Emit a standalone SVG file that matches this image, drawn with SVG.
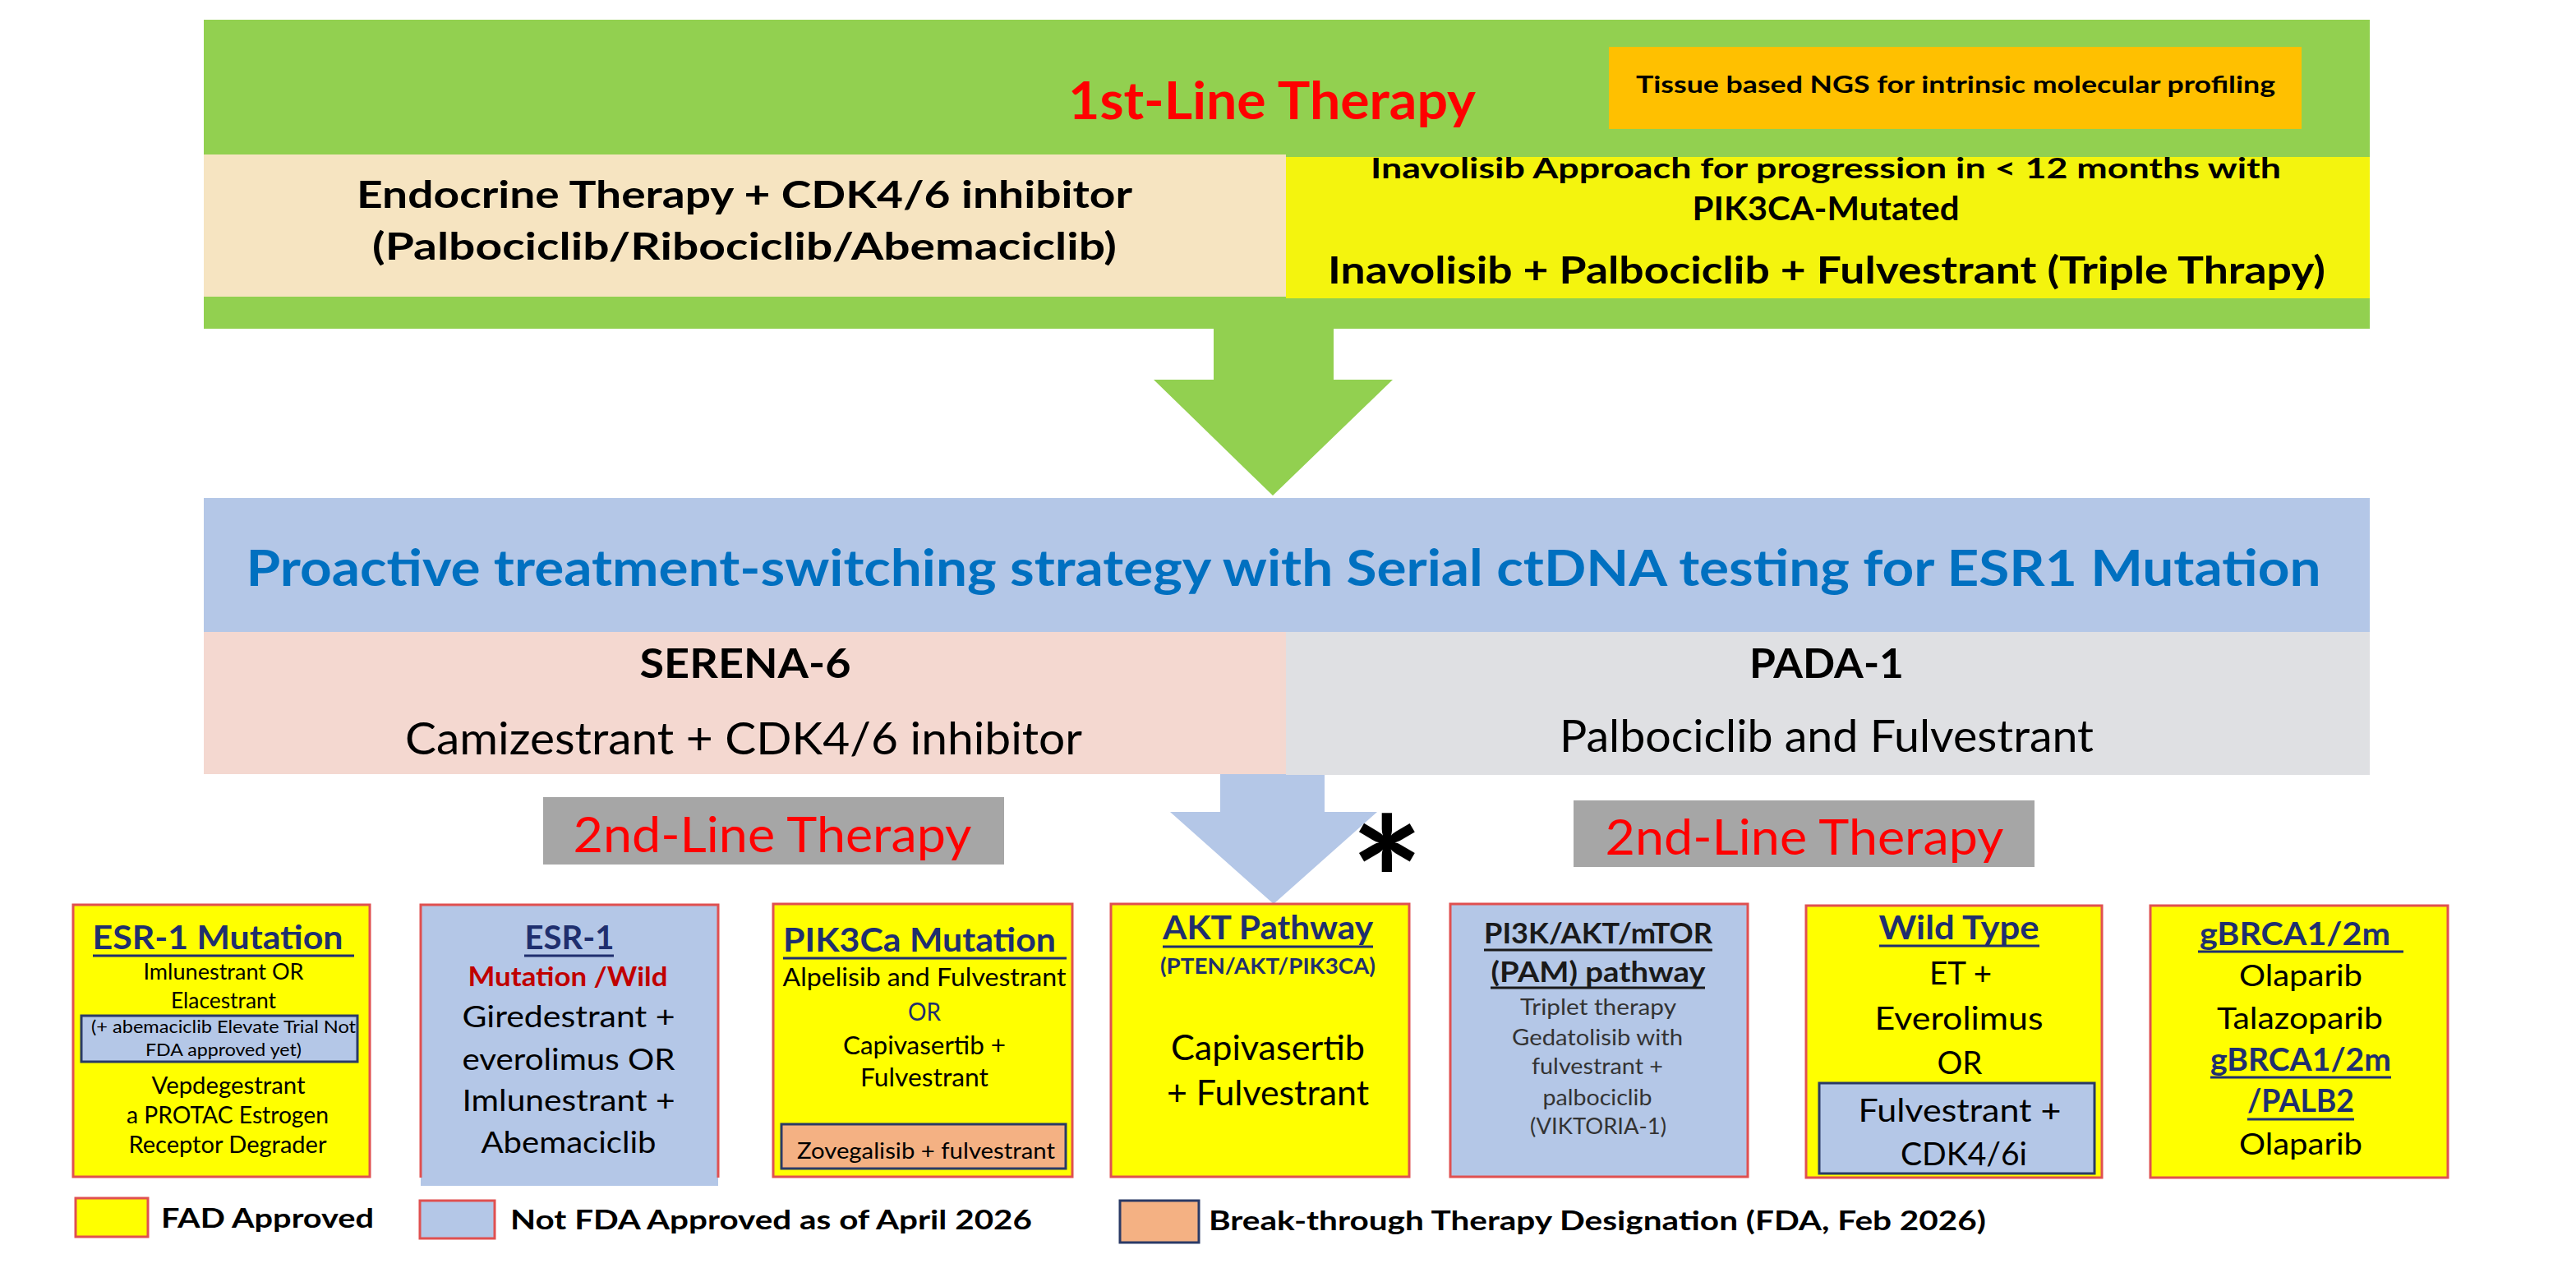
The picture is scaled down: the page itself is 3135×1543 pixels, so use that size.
<svg xmlns="http://www.w3.org/2000/svg" width="3135" height="1543" viewBox="0 0 3135 1543">
<style>
text{font-family:Lato,"Liberation Sans",sans-serif;}
.b{font-weight:bold;}
.c{text-anchor:middle;}
.nv{fill:#1f2f6e;}
.k{fill:#000;}
.red{fill:#ff0000;}
.box{stroke:#e05050;stroke-width:3;}
.yel{fill:#ffff00;}
.blu{fill:#b4c7e7;}
.inner{stroke:#2a3a66;stroke-width:3;}
.ul{stroke:#1f2f6e;stroke-width:3;}
.ulk{stroke:#1a1a1a;stroke-width:3;}
</style>
<rect width="3135" height="1543" fill="#ffffff"/>

<g id="connectors">
  <polygon points="1477,398 1623,398 1623,462 1695,462 1549,603 1404,462 1477,462" fill="#92d050"/>
  <polygon points="1485,940 1612,940 1612,988 1676,988 1550,1100 1424,988 1485,988" fill="#b4c7e7"/>
</g>

<g id="first-line">
  <rect x="248" y="24" width="2636" height="376" fill="#92d050"/>
  <text x="1548" y="145" class="b c red" font-size="64" textLength="496" lengthAdjust="spacingAndGlyphs">1st-Line Therapy</text>
</g>
<g id="ngs">
  <rect x="1958" y="57" width="843" height="100" fill="#ffc000"/>
  <text x="2380" y="113" class="b c k" font-size="29" textLength="778" lengthAdjust="spacingAndGlyphs">Tissue based NGS for intrinsic molecular profiling</text>
</g>
<g id="endocrine">
  <rect x="248" y="188" width="1317" height="173" fill="#f6e4c1"/>
  <text x="906" y="253" class="b c k" font-size="45" textLength="944" lengthAdjust="spacingAndGlyphs">Endocrine Therapy + CDK4/6 inhibitor</text>
  <text x="906" y="316" class="b c k" font-size="45" textLength="906" lengthAdjust="spacingAndGlyphs">(Palbociclib/Ribociclib/Abemaciclib)</text>
</g>
<g id="inavolisib">
  <rect x="1565" y="191" width="1319" height="172" fill="#f4f40e"/>
  <text x="2222" y="217" class="b c k" font-size="34" textLength="1108" lengthAdjust="spacingAndGlyphs">Inavolisib Approach for progression in &lt; 12 months with</text>
  <text x="2222" y="268" class="b c k" font-size="40" textLength="325" lengthAdjust="spacingAndGlyphs">PIK3CA-Mutated</text>
  <text x="2223" y="345" class="b c k" font-size="45" textLength="1214" lengthAdjust="spacingAndGlyphs">Inavolisib + Palbociclib + Fulvestrant (Triple Thrapy)</text>
</g>

<g id="proactive">
  <rect x="248" y="606" width="2636" height="163" fill="#b4c7e7"/>
  <text x="1562" y="713" class="b c" fill="#0070c0" font-size="62" textLength="2525" lengthAdjust="spacingAndGlyphs">Proactive treatment-switching strategy with Serial ctDNA testing for ESR1 Mutation</text>
</g>
<g id="serena6">
  <rect x="248" y="769" width="1317" height="173" fill="#f4d8d0"/>
  <text x="907" y="825" class="b c k" font-size="50" textLength="257" lengthAdjust="spacingAndGlyphs">SERENA-6</text>
  <text x="905" y="918" class="c k" font-size="55" textLength="824" lengthAdjust="spacingAndGlyphs">Camizestrant + CDK4/6 inhibitor</text>
</g>
<g id="pada1">
  <rect x="1565" y="769" width="1319" height="174" fill="#dfe0e3"/>
  <text x="2223" y="825" class="b c k" font-size="50" textLength="188" lengthAdjust="spacingAndGlyphs">PADA-1</text>
  <text x="2223" y="915" class="c k" font-size="55" textLength="650" lengthAdjust="spacingAndGlyphs">Palbociclib and Fulvestrant</text>
</g>

<g id="second-line-left">
  <rect x="661" y="970" width="561" height="82" fill="#a6a6a6"/>
  <text x="940" y="1037" class="c red" font-size="60" textLength="485" lengthAdjust="spacingAndGlyphs">2nd-Line Therapy</text>
</g>
<g id="second-line-right">
  <rect x="1915" y="974" width="561" height="81" fill="#a6a6a6"/>
  <text x="2196" y="1040" class="c red" font-size="60" textLength="485" lengthAdjust="spacingAndGlyphs">2nd-Line Therapy</text>
</g>
<g id="asterisk">
  <text x="1688" y="1149" class="b c k" font-size="210" font-family="Liberation Sans, sans-serif">*</text>
</g>

<g id="esr1-mutation">
  <rect x="89" y="1101" width="361" height="331" class="box yel"/>
  <text x="265" y="1155" class="b c nv" font-size="40" textLength="305" lengthAdjust="spacingAndGlyphs">ESR-1 Mutation</text>
  <line x1="113" y1="1163" x2="431" y2="1163" class="ul"/>
  <text x="272" y="1192" class="c k" font-size="26" textLength="195" lengthAdjust="spacingAndGlyphs">Imlunestrant  OR</text>
  <text x="272" y="1227" class="c k" font-size="26" textLength="128" lengthAdjust="spacingAndGlyphs">Elacestrant</text>
  <rect x="99" y="1236" width="336" height="56" class="blu inner"/>
  <text x="272" y="1257" class="c k" font-size="22" textLength="322" lengthAdjust="spacingAndGlyphs">(+ abemaciclib Elevate Trial Not</text>
  <text x="272" y="1285" class="c k" font-size="22" textLength="190" lengthAdjust="spacingAndGlyphs">FDA approved yet)</text>
  <text x="278" y="1331" class="c k" font-size="28" textLength="187" lengthAdjust="spacingAndGlyphs">Vepdegestrant</text>
  <text x="277" y="1367" class="c k" font-size="28" textLength="246" lengthAdjust="spacingAndGlyphs">a PROTAC Estrogen</text>
  <text x="277" y="1403" class="c k" font-size="28" textLength="241" lengthAdjust="spacingAndGlyphs">Receptor Degrader</text>
</g>

<g id="esr1-wild">
  <rect x="512" y="1101" width="362" height="342" class="blu"/>
  <path d="M512,1433 V1101 H874 V1433" fill="none" stroke="#e05050" stroke-width="3"/>
  <text x="693" y="1155" class="b c nv" font-size="40" textLength="109" lengthAdjust="spacingAndGlyphs">ESR-1</text>
  <line x1="638" y1="1163" x2="747" y2="1163" class="ul"/>
  <text x="691" y="1200" class="b c" fill="#c00000" font-size="33" textLength="243" lengthAdjust="spacingAndGlyphs">Mutation /Wild</text>
  <text x="692" y="1250" class="c k" font-size="37" textLength="259" lengthAdjust="spacingAndGlyphs">Giredestrant +</text>
  <text x="692" y="1302" class="c k" font-size="37" textLength="259" lengthAdjust="spacingAndGlyphs">everolimus OR</text>
  <text x="692" y="1352" class="c k" font-size="37" textLength="259" lengthAdjust="spacingAndGlyphs">Imlunestrant +</text>
  <text x="692" y="1403" class="c k" font-size="37" textLength="213" lengthAdjust="spacingAndGlyphs">Abemaciclib</text>
</g>

<g id="pik3ca">
  <rect x="941" y="1100" width="364" height="332" class="box yel"/>
  <text x="1119" y="1158" class="b c nv" font-size="41" textLength="332" lengthAdjust="spacingAndGlyphs">PIK3Ca Mutation</text>
  <line x1="953" y1="1166" x2="1298" y2="1166" class="ul"/>
  <text x="1125" y="1200" class="c k" font-size="30" textLength="345" lengthAdjust="spacingAndGlyphs">Alpelisib and Fulvestrant</text>
  <text x="1125" y="1242" class="c nv" font-size="30" textLength="40" lengthAdjust="spacingAndGlyphs">OR</text>
  <text x="1125" y="1283" class="c k" font-size="30" textLength="198" lengthAdjust="spacingAndGlyphs">Capivasertib +</text>
  <text x="1125" y="1322" class="c k" font-size="30" textLength="156" lengthAdjust="spacingAndGlyphs">Fulvestrant</text>
  <rect x="951" y="1368" width="346" height="54" fill="#f4b183" class="inner"/>
  <text x="1127" y="1410" class="c k" font-size="27" textLength="314" lengthAdjust="spacingAndGlyphs">Zovegalisib + fulvestrant</text>
</g>

<g id="akt">
  <rect x="1352" y="1100" width="363" height="332" class="box yel"/>
  <text x="1543" y="1143" class="b c nv" font-size="41" textLength="256" lengthAdjust="spacingAndGlyphs">AKT Pathway</text>
  <line x1="1415" y1="1152" x2="1671" y2="1152" class="ul"/>
  <text x="1543" y="1185" class="b c nv" font-size="26" textLength="262" lengthAdjust="spacingAndGlyphs">(PTEN/AKT/PIK3CA)</text>
  <text x="1543" y="1290" class="c k" font-size="42" textLength="236" lengthAdjust="spacingAndGlyphs">Capivasertib</text>
  <text x="1543" y="1345" class="c k" font-size="42" textLength="246" lengthAdjust="spacingAndGlyphs">+ Fulvestrant</text>
</g>

<g id="pam">
  <rect x="1765" y="1100" width="362" height="332" class="box blu"/>
  <text x="1945" y="1148" class="b c" fill="#1a1a1a" font-size="35" textLength="278" lengthAdjust="spacingAndGlyphs">PI3K/AKT/mTOR</text>
  <line x1="1806" y1="1156" x2="2084" y2="1156" class="ulk"/>
  <text x="1945" y="1195" class="b c" fill="#1a1a1a" font-size="35" textLength="261" lengthAdjust="spacingAndGlyphs">(PAM) pathway</text>
  <line x1="1814" y1="1202" x2="2075" y2="1202" class="ulk"/>
  <text x="1945" y="1235" class="c" fill="#333" font-size="27" textLength="190" lengthAdjust="spacingAndGlyphs">Triplet therapy</text>
  <text x="1944" y="1272" class="c" fill="#333" font-size="27" textLength="208" lengthAdjust="spacingAndGlyphs">Gedatolisib with</text>
  <text x="1944" y="1307" class="c" fill="#333" font-size="27" textLength="160" lengthAdjust="spacingAndGlyphs">fulvestrant +</text>
  <text x="1944" y="1345" class="c" fill="#333" font-size="27" textLength="133" lengthAdjust="spacingAndGlyphs">palbociclib</text>
  <text x="1945" y="1380" class="c" fill="#333" font-size="27" textLength="166" lengthAdjust="spacingAndGlyphs">(VIKTORIA-1)</text>
</g>

<g id="wild-type">
  <rect x="2198" y="1102" width="360" height="331" class="box yel"/>
  <text x="2384" y="1143" class="b c nv" font-size="41" textLength="195" lengthAdjust="spacingAndGlyphs">Wild Type</text>
  <line x1="2287" y1="1151" x2="2482" y2="1151" class="ul"/>
  <text x="2386" y="1198" class="c k" font-size="38" textLength="76" lengthAdjust="spacingAndGlyphs">ET +</text>
  <text x="2384" y="1253" class="c k" font-size="38" textLength="205" lengthAdjust="spacingAndGlyphs">Everolimus</text>
  <text x="2385" y="1307" class="c k" font-size="38" textLength="55" lengthAdjust="spacingAndGlyphs">OR</text>
  <rect x="2214" y="1318" width="335" height="110" class="blu inner"/>
  <text x="2385" y="1365" class="c k" font-size="38" textLength="247" lengthAdjust="spacingAndGlyphs">Fulvestrant +</text>
  <text x="2390" y="1418" class="c k" font-size="38" textLength="154" lengthAdjust="spacingAndGlyphs">CDK4/6i</text>
</g>

<g id="gbrca">
  <rect x="2617" y="1102" width="362" height="331" class="box yel"/>
  <text x="2793" y="1150" class="b c nv" font-size="39" textLength="232" lengthAdjust="spacingAndGlyphs">gBRCA1/2m</text>
  <line x1="2675" y1="1158" x2="2925" y2="1158" class="ul"/>
  <text x="2800" y="1200" class="c k" font-size="37" textLength="150" lengthAdjust="spacingAndGlyphs">Olaparib</text>
  <text x="2799" y="1252" class="c k" font-size="37" textLength="202" lengthAdjust="spacingAndGlyphs">Talazoparib</text>
  <text x="2800" y="1303" class="b c nv" font-size="39" textLength="220" lengthAdjust="spacingAndGlyphs">gBRCA1/2m</text>
  <line x1="2690" y1="1311" x2="2910" y2="1311" class="ul"/>
  <text x="2800" y="1353" class="b c nv" font-size="39" textLength="130" lengthAdjust="spacingAndGlyphs">/PALB2</text>
  <line x1="2735" y1="1362" x2="2865" y2="1362" class="ul"/>
  <text x="2800" y="1405" class="c k" font-size="37" textLength="150" lengthAdjust="spacingAndGlyphs">Olaparib</text>
</g>

<g id="legend">
  <rect x="92" y="1458" width="88" height="47" class="box yel"/>
  <text x="196" y="1494" class="b k" font-size="32" textLength="259" lengthAdjust="spacingAndGlyphs">FAD Approved</text>
  <rect x="511" y="1461" width="91" height="46" class="box blu"/>
  <text x="621" y="1496" class="b k" font-size="32" textLength="635" lengthAdjust="spacingAndGlyphs">Not FDA Approved as of April 2026</text>
  <rect x="1363" y="1461" width="96" height="51" fill="#f4b183" class="inner"/>
  <text x="1471" y="1497" class="b k" font-size="32" textLength="946" lengthAdjust="spacingAndGlyphs">Break-through Therapy Designation (FDA, Feb 2026)</text>
</g>
</svg>
